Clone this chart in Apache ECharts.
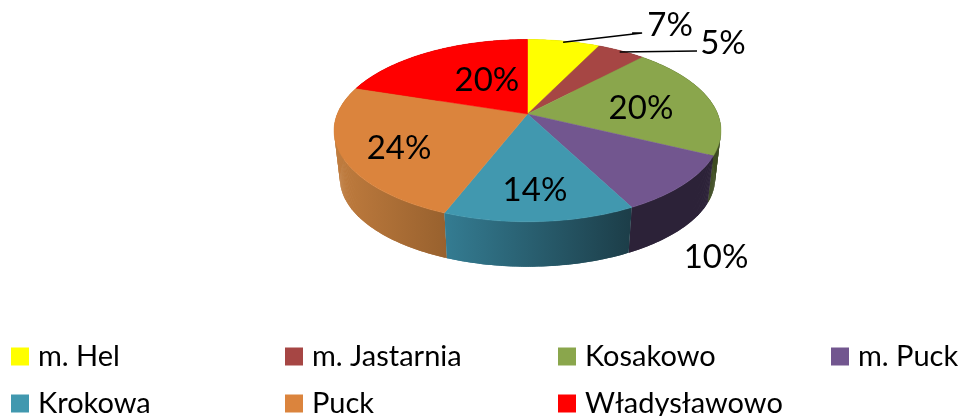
<!DOCTYPE html>
<html><head><meta charset="utf-8">
<style>html,body{margin:0;padding:0;background:#fff}#c{width:965px;height:416px}</style>
<script src="https://cdn.jsdelivr.net/npm/echarts@6/dist/echarts.min.js"></script>
</head><body><div id="c"></div>
<script>
var categories = ['m. Hel','m. Jastarnia','Kosakowo','m. Puck','Krokowa','Puck','Władysławowo'];
var shares = [7.2,4.8,20.2,10.2,13.5,24.1,20.0];
var labels = ['7%','5%','20%','10%','14%','24%','20%'];
var colors = ['#FFFF00','#A64644','#8AA64C','#72568F','#4198AF','#DB843D','#FF0000'];
var wallLeft = ['#b8b800','#70302e','#3c4a20','#2c2238','#347c92','#c07c3e','#a00000'];
var wallRight = ['#b8b800','#70302e','#3c4a20','#2c2238','#1c3d48','#98612e','#a00000'];
var labelAngle = [36.6,51.9,83.5,148.6,177.4,240.2,331];
var labelRadius = [1.541,1.531,0.608,1.468,0.747,0.727,0.474];
var leaders = [[[-28,8],[-38,8]],[[-26,8]],null,null,null,null,null];
var legendColumns = [[0,4],[1,5],[2,6],[3]];
var legendLeft = [11,285,558,831];

var CX=527.5, CY=114, A=190.2, B=88.1, K=0.1823, DEPTH=48.2, SHRINK=0.97;
var FONT='Lato';
var total=shares.reduce(function(a,b){return a+b;},0);
function startAngle(i){var s=0;for(var j=0;j<i;j++)s+=shares[j];return s/total*2*Math.PI;}
function endAngle(i){return startAngle(i)+shares[i]/total*2*Math.PI;}
function proj(t,r){var s=r*Math.sin(t),c=r*Math.cos(t),w=1+K*c;return [CX+A*s/w,CY-B*c/w];}
function low(p){return [CX+SHRINK*(p[0]-CX),CY+DEPTH+SHRINK*(p[1]-CY)];}
function arc(i){var pts=[],a=startAngle(i),b=endAngle(i),n=Math.ceil((b-a)/0.01);
  for(var k=0;k<=n;k++)pts.push(proj(a+(b-a)*k/n,1));return pts;}

function renderTop(i){return function(){
  return {type:'polygon',shape:{points:[[CX,CY]].concat(arc(i))},style:{fill:colors[i],stroke:colors[i],lineWidth:0.5}};
};}
function renderWall(params,api){
  var i=api.value(0), rim=arc(i), bottom=rim.map(low);
  var xs=rim.concat(bottom).map(function(p){return p[0];});
  var fill={type:'linear',global:true,x:Math.min.apply(null,xs),y:0,x2:Math.max.apply(null,xs),y2:0,
    colorStops:[{offset:0,color:wallLeft[i]},{offset:1,color:wallRight[i]}]};
  var kids=[];
  for(var k=0;k<rim.length-1;k++){
    var e=Math.min(k+2,rim.length-1);
    kids.push({type:'polygon',shape:{points:[rim[k],rim[e],bottom[e],bottom[k]]},style:{fill:fill,stroke:null}});
  }
  return {type:'group',children:kids};
}
function renderLabel(params,api){
  var i=api.value(0), p=proj(labelAngle[i]*Math.PI/180,labelRadius[i]), kids=[];
  if(leaders[i]){
    var mid=(startAngle(i)+endAngle(i))/2, pts=[proj(mid,0.98)];
    leaders[i].forEach(function(o){pts.push([p[0]+o[0],p[1]+o[1]]);});
    kids.push({type:'polyline',shape:{points:pts},style:{stroke:'#000',lineWidth:1.5,fill:null}});
  }
  kids.push({type:'text',x:p[0],y:p[1],style:{text:labels[i],fontFamily:FONT,fontSize:33,fill:'#000',align:'center',verticalAlign:'middle'}});
  return {type:'group',children:kids};
}
var series=[{name:'walls',type:'custom',coordinateSystem:'none',z:1,silent:true,renderItem:renderWall,
  data:[0,6,1,2,5,3,4].map(function(i){return [i];})}];
categories.forEach(function(n,i){
  series.push({name:n,type:'custom',coordinateSystem:'none',z:2,silent:true,renderItem:renderTop(i),
    itemStyle:{color:colors[i]},data:[[shares[i]]]});
});
series.push({name:'labels',type:'custom',coordinateSystem:'none',z:3,silent:true,renderItem:renderLabel,
  data:categories.map(function(n,i){return [i];})});

var legends=legendColumns.map(function(col,k){return {
  orient:'vertical',left:legendLeft[k],top:342,width:270,height:90,padding:0,itemWidth:18,itemHeight:18,itemGap:18,icon:'rect',
  selectedMode:false,data:col.map(function(i){return categories[i];}),
  textStyle:{fontFamily:FONT,fontSize:29,color:'#000',padding:[0,0,0,4]}
};});
var chart=echarts.init(document.getElementById('c'),null,{renderer:'canvas'});
chart.setOption({animation:false,backgroundColor:'#fff',legend:legends,series:series});
</script></body></html>
